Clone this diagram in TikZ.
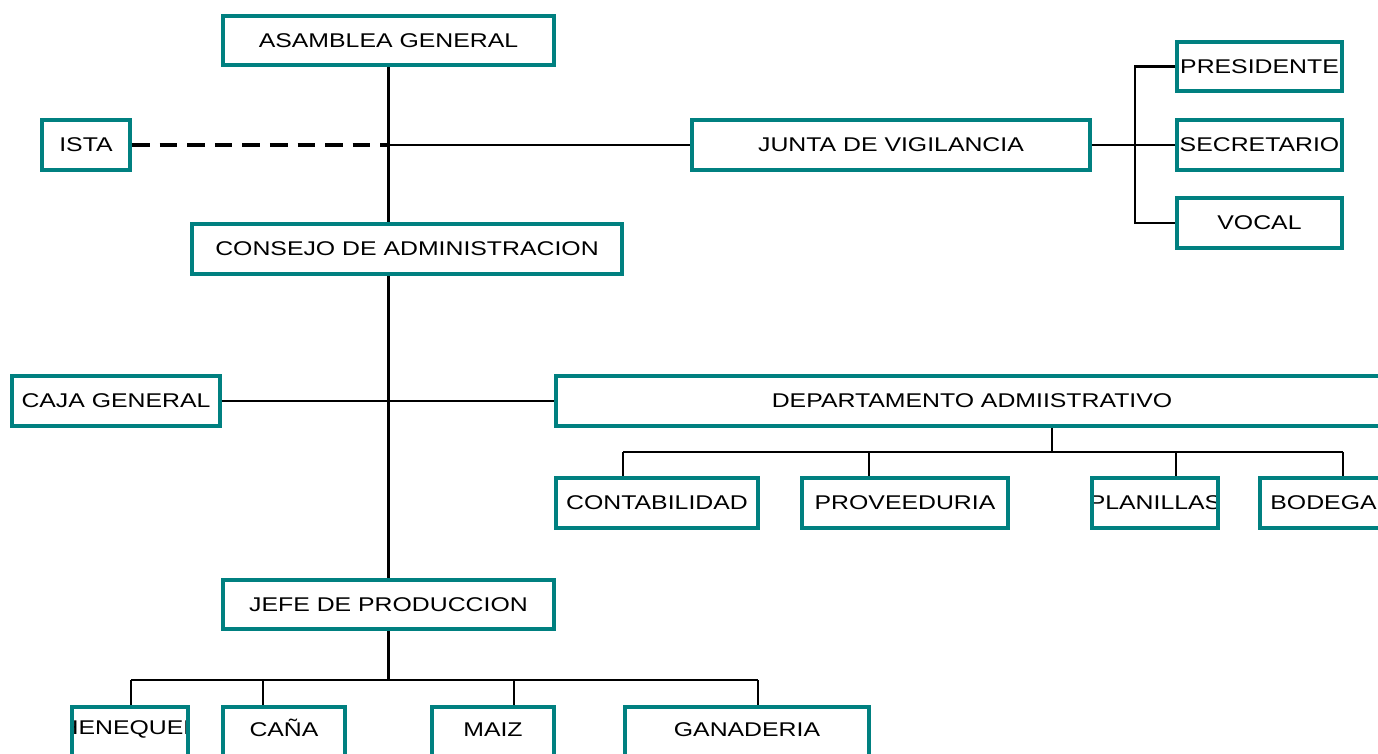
\documentclass[tikz,border=0pt]{standalone}
\usepackage{fontspec}
\setmainfont{Liberation Sans}[FakeStretch=1.25]
\definecolor{verde}{RGB}{0,128,128}
\tikzset{
  caja/.style={draw=verde, line width=2.27pt, minimum height=1cm, inner sep=0pt,
    font=\fontsize{11.3}{13.6}\selectfont},
  recorte/.style 2 args={path picture={\node[font=\fontsize{11.3}{13.6}\selectfont]
    at ([shift={#2}]path picture bounding box.center) {#1};}},
  abajo/.style={text height=0.29cm, text depth=0.12cm},
  tronco/.style={line width=1.7pt},
  linea/.style={line width=1.2pt}
}

\begin{document}
\begin{tikzpicture}
    \clip (0,0) rectangle (27.56,-15.08);
    % cajas
    \node[caja, minimum width=6.62cm, minimum height=0.98cm] (asamblea) at (7.77,-0.81) {ASAMBLEA GENERAL};
    \node[caja, minimum width=1.76cm] (ista) at (1.72,-2.90) {ISTA};
    \node[caja, minimum width=7.96cm] (junta) at (17.82,-2.90) {JUNTA DE VIGILANCIA};
    \node[caja, minimum width=3.30cm, minimum height=0.98cm] (presidente) at (25.19,-1.33) {PRESIDENTE};
    \node[caja, minimum width=3.30cm] (secretario) at (25.19,-2.90) {SECRETARIO};
    \node[caja, minimum width=3.30cm] (vocal) at (25.19,-4.46) {VOCAL};
    \node[caja, minimum width=8.60cm] (consejo) at (8.14,-4.98) {CONSEJO DE ADMINISTRACION};
    \node[caja, minimum width=4.16cm] (cajagen) at (2.32,-8.02) {CAJA GENERAL};
    \node[caja, minimum width=16.64cm] (depto) at (19.44,-8.02) {DEPARTAMENTO ADMIISTRATIVO};
    \node[caja, minimum width=4.04cm] (conta) at (13.14,-10.06) {CONTABILIDAD};
    \node[caja, minimum width=4.12cm] (prov) at (18.10,-10.06) {PROVEEDURIA};
    \node[caja, minimum width=2.52cm, recorte={PLANILLAS}{(0,0)}] (plan) at (23.10,-10.06) {};
    \node[caja, minimum width=2.54cm] (bod) at (26.47,-10.06) {BODEGA};
    \node[caja, minimum width=6.62cm, minimum height=0.98cm] (jefe) at (7.77,-12.09) {JEFE DE PRODUCCION};
    \node[caja, minimum width=2.32cm, recorte={HENEQUEN}{(0.02,0.06)}] (hen) at (2.60,-14.64) {};
    \node[caja, abajo, minimum width=2.44cm] (cana) at (5.68,-14.64) {CAÑA};
    \node[caja, abajo, minimum width=2.44cm] (maiz) at (9.86,-14.64) {MAIZ};
    \node[caja, abajo, minimum width=4.88cm] (gan) at (14.94,-14.64) {GANADERIA};

    % tronco
    \coordinate (cruce) at (asamblea.south |- ista.east);
    \draw[tronco] (asamblea.south) -- (asamblea.south |- consejo.north);
    \draw[tronco] (asamblea.south |- consejo.south) -- (jefe.north);
    \draw[tronco] (jefe.south) -- (jefe.south |- 0,-13.60);

    % ista y junta
    \draw[line width=2.6pt, dash pattern=on 10pt off 5.7pt] (ista.east) -- (cruce);
    \draw[linea] (cruce) -- (junta.west);
    \draw[linea] (junta.east) -- (secretario.west);
    \draw[linea] (presidente.west) -- ++(-0.8,0) |- (vocal.west);

    % caja general y departamento
    \draw[linea] (cajagen.east) -- (depto.west);
    \draw[linea] (21.04,0 |- depto.south) -- (21.04,-9.04);
    \draw[linea] (12.46,-9.04) -- (26.86,-9.04);
    \foreach \x/\n in {12.46/conta, 17.38/prov, 23.52/plan, 26.86/bod}
      \draw[linea] (\x,-9.04) -- (\x,0 |- \n.north);

    % produccion
    \draw[linea] (2.62,-13.60) -- (15.16,-13.60);
    \foreach \x/\n in {2.62/hen, 5.26/cana, 10.28/maiz, 15.16/gan}
      \draw[linea] (\x,-13.60) -- (\x,0 |- \n.north);
\end{tikzpicture}
\end{document}
